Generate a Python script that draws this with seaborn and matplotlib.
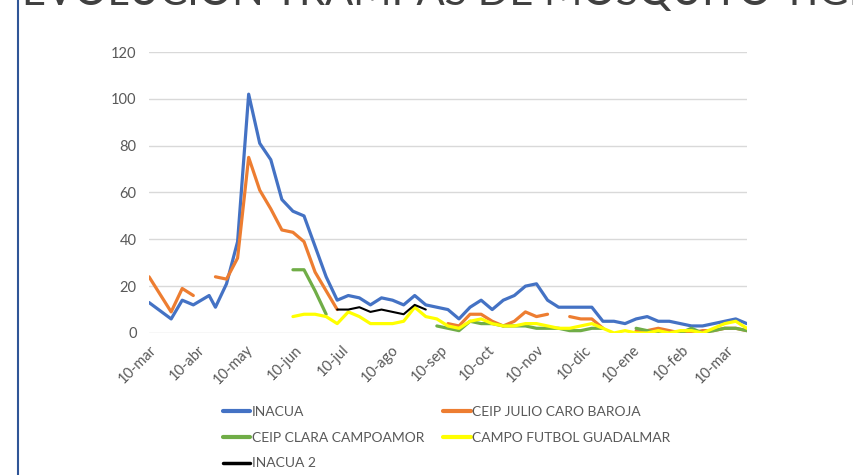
import pandas as pd
import seaborn as sns
import matplotlib.pyplot as plt
from matplotlib.lines import Line2D

# fechas de muestreo (semanales aprox.)
fechas = [
    '2020-03-10', '2020-03-24', '2020-03-31', '2020-04-07', '2020-04-17', '2020-04-21',
    '2020-04-28', '2020-05-05', '2020-05-12', '2020-05-19', '2020-05-26', '2020-06-02',
    '2020-06-09', '2020-06-16', '2020-06-23', '2020-06-30', '2020-07-07', '2020-07-14',
    '2020-07-21', '2020-07-28', '2020-08-04', '2020-08-11', '2020-08-18', '2020-08-25',
    '2020-09-01', '2020-09-08', '2020-09-15', '2020-09-22', '2020-09-29', '2020-10-06',
    '2020-10-13', '2020-10-20', '2020-10-27', '2020-11-03', '2020-11-10', '2020-11-17',
    '2020-11-24', '2020-12-01', '2020-12-08', '2020-12-15', '2020-12-22', '2020-12-29',
    '2021-01-05', '2021-01-12', '2021-01-19', '2021-01-26', '2021-02-02', '2021-02-09',
    '2021-02-16', '2021-02-23', '2021-03-02', '2021-03-09', '2021-03-16', '2021-03-23',
]

N = None
inacua = [13, 6, 14, 12, 16, 11, 21, 39, 102, 81, 74, 57, 52, 50, 37, 24, 14, 16,
          15, 12, 15, 14, 12, 16, 12, 11, 10, 6, 11, 14, 10, 14, 16, 20, 21, 14,
          11, 11, 11, 11, 5, 5, 4, 6, 7, 5, 5, 4, 3, 3, 4, 5, 6, 4]
julio_caro = [24, 9, 19, 16, N, 24, 23, 32, 75, 61, 53, 44, 43, 39, 26, 18, 10, N,
              N, N, N, N, N, N, N, N, 4, 3, 8, 8, 5, 3, 5, 9, 7, 8,
              N, 7, 6, 6, 2, N, N, 1, 1, 2, 1, 0, 0, 1, 1, 2, 2, 1]
clara_campoamor = [N, N, N, N, N, N, N, N, N, N, N, N, 27, 27, 18, 8, N, N,
                   N, N, N, N, N, N, N, 3, 2, 1, 5, 4, 4, 3, 3, 3, 2, 2,
                   2, 1, 1, 2, 2, N, N, 2, 1, 0, 0, 0, 2, 0, 1, 2, 2, 1]
campo_futbol = [N, N, N, N, N, N, N, N, N, N, N, N, 7, 8, 8, 7, 4, 9,
                7, 4, 4, 4, 5, 11, 7, 6, 3, 2, 5, 6, 4, 3, 3, 4, 4, 3,
                2, 2, 3, 4, 2, 0, 1, 0, 0, 1, 0, 1, 1, 0, 2, 4, 5, 2]
inacua_2 = [N, N, N, N, N, N, N, N, N, N, N, N, N, N, N, N, 10, 10,
            11, 9, 10, 9, 8, 12, 10, N, N, N, N, N, N, N, N, N, N, N,
            N, N, N, N, N, N, N, N, N, N, N, N, N, N, N, N, N, N]

nombres = ['INACUA', 'CEIP JULIO CARO BAROJA', 'CEIP CLARA CAMPOAMOR',
           'CAMPO FUTBOL GUADALMAR', 'INACUA 2']
valores = [inacua, julio_caro, clara_campoamor, campo_futbol, inacua_2]
colores = ['#4472C4', '#ED7D31', '#70AD47', '#FFFF00', '#000000']
grosores = [2.3, 2.3, 2.3, 2.3, 1.5]

ticks_fechas = ['2020-03-10', '2020-04-10', '2020-05-10', '2020-06-10', '2020-07-10',
                '2020-08-10', '2020-09-10', '2020-10-10', '2020-11-10', '2020-12-10',
                '2021-01-10', '2021-02-10', '2021-03-10']
ticks_etiquetas = ['10-mar', '10-abr', '10-may', '10-jun', '10-jul', '10-ago', '10-sep',
                   '10-oct', '10-nov', '10-dic', '10-ene', '10-feb', '10-mar']

titulo = 'EVOLUCIÓN TRAMPAS DE MOSQUITO TIGRE'

# tabla larga, con un id de tramo para cortar la linea donde falta el dato
filas = []
for nombre, vals in zip(nombres, valores):
    tramo = 0
    corte = True
    for f, v in zip(fechas, vals):
        if v is None:
            corte = True
            continue
        if corte:
            tramo += 1
            corte = False
        filas.append({'fecha': f, 'valor': v, 'serie': nombre, 'tramo': f'{nombre}-{tramo}'})
df = pd.DataFrame(filas)
df['fecha'] = pd.to_datetime(df['fecha'])

sns.set_style('white')
plt.rcParams['font.family'] = ['Lato', 'DejaVu Sans']

fig = plt.figure(figsize=(8.54, 4.75), dpi=100)
ax = fig.add_axes([0.1745, 0.299, 0.700, 0.5915])

for nombre, color, lw in zip(nombres, colores, grosores):
    sub = df[df['serie'] == nombre]
    sns.lineplot(data=sub, x='fecha', y='valor', units='tramo', estimator=None,
                 color=color, linewidth=lw, ax=ax, legend=False)

ax.set_ylim(0, 120)
ax.set_yticks(range(0, 121, 20))
ax.set_xlim(pd.Timestamp(fechas[0]), pd.Timestamp(fechas[-1]))
ax.set_xticks(pd.to_datetime(ticks_fechas))
ax.set_xticklabels(ticks_etiquetas, rotation=45, ha='right', rotation_mode='anchor')
ax.tick_params(axis='both', length=0, labelsize=10.5, labelcolor='#595959')
ax.tick_params(axis='y', pad=9)
ax.tick_params(axis='x', pad=7)
ax.set_xlabel('')
ax.set_ylabel('')
ax.yaxis.grid(True, color='#D9D9D9', linewidth=1)
ax.set_axisbelow(True)
for s in ax.spines.values():
    s.set_visible(False)

# leyenda: orden por columnas para que quede igual que en la imagen
orden = [0, 2, 4, 1, 3]
handles = [Line2D([], [], color=colores[i], lw=3 if i != 4 else 2.5) for i in orden]
fig.legend(handles, [nombres[i] for i in orden], ncol=2, loc='upper left',
           bbox_to_anchor=(0.246, 0.171), frameon=False, fontsize=10,
           labelcolor='#595959', handlelength=2.0, handletextpad=0.1,
           columnspacing=1.35, labelspacing=0.98)

# titulo cortado por arriba y linea azul del borde
fig.text(22 / 854, 1 - 5 / 475, titulo, fontsize=30, color='#404040', va='baseline')
fig.add_artist(Line2D([18 / 854, 18 / 854], [0, 1], color='#2F5597', lw=1.5))

fig.savefig('out.png', dpi=100)
